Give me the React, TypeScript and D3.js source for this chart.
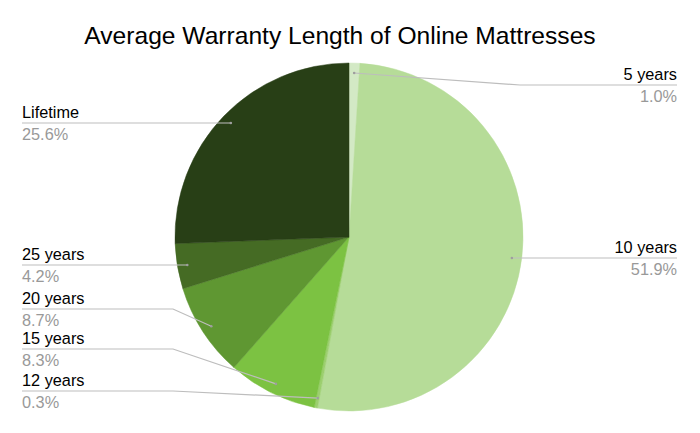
import { useEffect, useRef } from 'react';
import * as d3 from 'd3';

const categories = ['5 years', '10 years', '12 years', '15 years', '20 years', '25 years', 'Lifetime'];
const shares = [1.0, 51.9, 0.3, 8.3, 8.7, 4.2, 25.6];
const sliceColors = ['#d3e9c5', '#b6dc98', '#9ccf6f', '#7cc242', '#5f9732', '#456b24', '#283f16'];
// which side the label sits on, and the y of its leader line
const labelSide = ['right', 'right', 'left', 'left', 'left', 'left', 'left'];
const labelLineY = [85, 258, 391, 349, 309, 265, 123];

export default function App() {
    const svgRef = useRef<SVGSVGElement>(null);

    useEffect(() => {
        if (!svgRef.current) return;
        const svg = d3.select(svgRef.current);
        svg.selectAll('*').remove();

        const width = 700;
        const cx = 349;
        const cy = 237;
        const radius = 174;
        const font = 'Arial, "Liberation Sans", sans-serif';

        svg.append('rect').attr('width', width).attr('height', 433).attr('fill', '#fff');

        svg.append('text')
            .attr('x', 340)
            .attr('y', 44)
            .attr('text-anchor', 'middle')
            .style('font-family', font)
            .style('font-size', '24.6px')
            .style('fill', '#000')
            .text('Average Warranty Length of Online Mattresses');

        const data = categories.map((c, i) => ({ name: c, value: shares[i], i }));
        const pie = d3.pie<typeof data[0]>().value(d => d.value).sort(null);
        const arcs = pie(data);
        const arc = d3.arc<d3.PieArcDatum<typeof data[0]>>().innerRadius(0).outerRadius(radius);

        const g = svg.append('g').attr('transform', `translate(${cx},${cy})`);
        g.selectAll('path')
            .data(arcs)
            .enter()
            .append('path')
            .attr('d', arc)
            .attr('fill', d => sliceColors[d.data.i])
            .attr('stroke', d => sliceColors[d.data.i])
            .attr('stroke-width', 0.5);

        // leader lines + labels
        const anchorR = radius * 0.943;
        arcs.forEach(a => {
            const i = a.data.i;
            const mid = (a.startAngle + a.endAngle) / 2;
            const px = cx + anchorR * Math.sin(mid);
            const py = cy - anchorR * Math.cos(mid);
            const ly = labelLineY[i];
            const right = labelSide[i] === 'right';
            const textX = right ? 677 : 22;
            const pts: [number, number][] = [];
            if (Math.abs(py - ly) < 3) {
                pts.push([px, ly], [textX, ly]);
            } else {
                const bend = right ? 520 : 173;
                pts.push([px, py], [bend, ly], [textX, ly]);
            }
            svg.append('path')
                .attr('d', d3.line()(pts))
                .attr('fill', 'none')
                .attr('stroke', '#bdbdbd')
                .attr('stroke-width', 1.2);
            svg.append('circle')
                .attr('cx', px)
                .attr('cy', pts[0][1])
                .attr('r', 1.3)
                .attr('fill', '#9e9e9e');
            svg.append('text')
                .attr('x', textX)
                .attr('y', ly - 5)
                .attr('text-anchor', right ? 'end' : 'start')
                .style('font-family', font)
                .style('font-size', '16.3px')
                .style('fill', '#000')
                .text(a.data.name);
            svg.append('text')
                .attr('x', textX)
                .attr('y', ly + 17)
                .attr('text-anchor', right ? 'end' : 'start')
                .style('font-family', font)
                .style('font-size', '16.3px')
                .style('fill', '#999')
                .text(`${a.data.value.toFixed(1)}%`);
        });
    }, []);

    return (
        <div style={{ width: 700, height: 433, margin: -8 }}>
            <svg ref={svgRef} width={700} height={433} style={{ display: 'block' }} />
        </div>
    );
}
